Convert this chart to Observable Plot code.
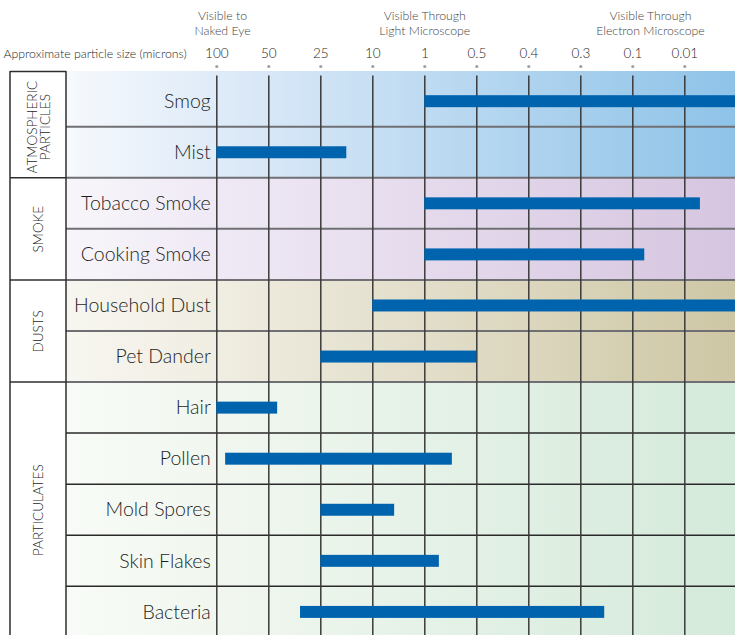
<!DOCTYPE html>
<html><head><meta charset="utf-8">
<script src="https://cdn.jsdelivr.net/npm/d3@7"></script>
<script src="https://cdn.jsdelivr.net/npm/@observablehq/plot@0.6"></script>
<style>body{margin:0;background:#fff;} svg{display:block;}</style>
</head><body><div id="chart"></div>
<script>
// ---- data ----
const sizeTicks = ["100", "50", "25", "10", "1", "0.5", "0.4", "0.3", "0.1", "0.01"];
const axisTitle = "Approximate particle size (microns)";
const headerLabels = ["Visible to\nNaked Eye", "Visible Through\nLight Microscope", "Visible Through\nElectron Microscope"];
const headerPos = [0.11, 4, 8.34];
const groupNames = ["ATMOSPHERIC\nPARTICLES", "SMOKE", "DUSTS", "PARTICULATES"];
const groupStart = [0, 2, 4, 6];
const groupEnd = [2, 4, 6, 11];
const particles = ["Smog", "Mist", "Tobacco Smoke", "Cooking Smoke", "Household Dust", "Pet Dander", "Hair", "Pollen", "Mold Spores", "Skin Flakes", "Bacteria"];
const sizeFrom = [4, 0, 4, 4, 3, 2, 0, 0.17, 2, 2, 1.61];
const sizeTo = [10, 2.5, 9.3, 8.23, 10, 5, 1.17, 4.53, 3.42, 4.28, 7.46];

// ---- styles ----
const gradStops = [
  ["#f6f9fd", "#dfebf8", "#8ec3e8"],
  ["#f8f6fa", "#efe9f5", "#d6c5e0"],
  ["#f7f6f0", "#f0ede2", "#cec7a5"],
  ["#f8fbf7", "#f1f7ef", "#d4eadb"]
];
const boxLeft = 10, boxRight = 66;

const rows = particles.map((name, i) => ({name, i, from: sizeFrom[i], to: sizeTo[i]}));
const groups = groupNames.map((name, k) => ({name, start: groupStart[k], end: groupEnd[k], mid: (groupStart[k] + groupEnd[k]) / 2}));
const ticks = sizeTicks.map((label, i) => ({label, i}));
const headers = headerLabels.map((label, k) => ({label, x: headerPos[k]}));

function backdrop(index, scales, values, dims) {
  const {y, x} = scales;
  const W = dims.width, H = dims.height;
  const g = d3.create("svg:g");
  const defs = g.append("defs");
  const x0 = x(0);
  groups.forEach((gr, k) => {
    const grad = defs.append("linearGradient")
      .attr("id", "bg" + k).attr("gradientUnits", "userSpaceOnUse")
      .attr("x1", boxRight).attr("x2", W).attr("y1", 0).attr("y2", 0);
    grad.append("stop").attr("offset", 0).attr("stop-color", gradStops[k][0]);
    grad.append("stop").attr("offset", (x0 - boxRight) / (W - boxRight)).attr("stop-color", gradStops[k][1]);
    grad.append("stop").attr("offset", 1).attr("stop-color", gradStops[k][2]);
    const yTop = k === 0 ? dims.marginTop : y(gr.start);
    const yBot = Math.min(y(gr.end), H);
    g.append("rect").attr("x", boxRight).attr("y", yTop).attr("width", W - boxRight).attr("height", yBot - yTop).attr("fill", `url(#bg${k})`);
  });
  // row separators
  for (let i = 1; i < particles.length; i++) {
    const isGroup = groupStart.includes(i);
    const yy = y(i);
    g.append("line").attr("x1", boxRight).attr("x2", W).attr("y1", yy).attr("y2", yy)
      .attr("stroke", i <= 6 ? "#707074" : "#2a2a2a").attr("stroke-width", i <= 6 ? 2 : 1.5);
    if (isGroup) {
      g.append("line").attr("x1", boxLeft).attr("x2", boxRight).attr("y1", yy).attr("y2", yy)
        .attr("stroke", "#2e2e2e").attr("stroke-width", 1.5);
    }
  }
  // group box column
  g.append("line").attr("x1", boxLeft).attr("x2", boxRight).attr("y1", dims.marginTop + 0.5).attr("y2", dims.marginTop + 0.5)
    .attr("stroke", "#2e2e2e").attr("stroke-width", 1.5);
  [boxLeft, boxRight].forEach(xx => {
    g.append("line").attr("x1", xx).attr("x2", xx).attr("y1", dims.marginTop).attr("y2", H)
      .attr("stroke", "#2e2e2e").attr("stroke-width", 1.5);
  });
  return g.node();
}

const chart = Plot.plot({
  width: 735,
  height: 635,
  marginTop: 71,
  marginLeft: 3,
  marginRight: 0,
  marginBottom: 0,
  x: {domain: [0, 10], range: [216.3, 736.3], axis: null},
  y: {domain: [0, 11], range: [75.6, 637.4], axis: null},
  style: {fontFamily: "Lato, 'Open Sans', sans-serif", background: "#fff", overflow: "hidden"},
  marks: [
    backdrop,
    Plot.ruleX(ticks, {x: "i", y1: 0, y2: 11, stroke: "#3a3a3a", strokeWidth: 1.5}),
    Plot.rect(rows, {x1: "from", x2: "to", y1: "i", y2: d => d.i + 1, insetTop: 19.6, insetBottom: 19.5, fill: "#0063ae"}),
    Plot.text(rows, {x: 0, y: d => d.i + 0.5, text: "name", textAnchor: "end", dx: -6, fontSize: 19.5, fontWeight: 300, fill: "#1e1e1e", style: "letter-spacing:0.55px"}),
    Plot.text(groups, {y: "mid", text: "name", frameAnchor: "left", textAnchor: "middle", lineAnchor: "middle", dx: 35.5, rotate: -90, fontSize: 13.5, fontWeight: 300, lineHeight: 0.98, fill: "#1e1e1e"}),
    Plot.dot(ticks, {x: "i", frameAnchor: "top", dy: -5, r: 1.6, fill: "#a0a0a0", stroke: null}),
    Plot.text(ticks, {x: "i", text: "label", frameAnchor: "top", lineAnchor: "middle", dy: -17.5, fontSize: 13.5, fontWeight: 300, fill: "#1e1e1e"}),
    Plot.text([axisTitle], {frameAnchor: "top-left", textAnchor: "start", lineAnchor: "middle", dy: -17.5, fontSize: 12.3, fontWeight: 300, fill: "#1e1e1e"}),
    Plot.text(headers, {x: "x", text: "label", frameAnchor: "top", lineAnchor: "middle", dy: -49, fontSize: 12.3, fontWeight: 300, lineHeight: 1.2, fill: "#444"})
  ]
});
document.getElementById("chart").append(chart);
</script>
</body></html>
